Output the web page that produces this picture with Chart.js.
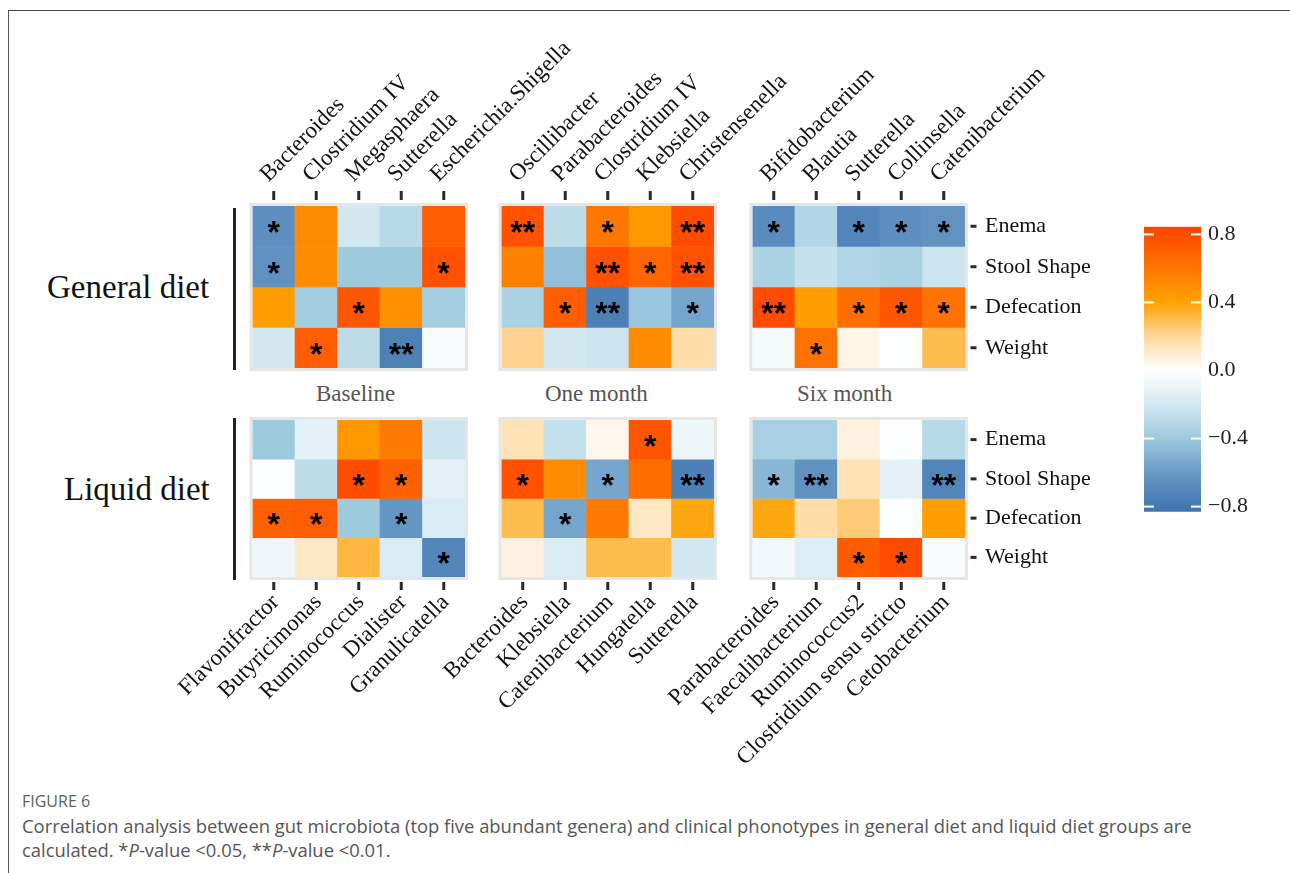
<!DOCTYPE html>
<html><head><meta charset="utf-8">
<script src="https://cdn.jsdelivr.net/npm/chart.js@4/dist/chart.umd.min.js"></script>
<style>
html,body{margin:0;padding:0;background:#fff;}
body{width:1290px;height:873px;position:relative;overflow:hidden;font-family:"Liberation Serif",serif;}
canvas{position:absolute;}
.t{position:absolute;white-space:nowrap;line-height:1;}
.cap{position:absolute;white-space:nowrap;font-family:"Open Sans",sans-serif;color:#555;}
</style></head><body>
<div style="position:absolute;left:8px;top:10px;width:1282px;height:0;border-top:1px solid #444"></div>
<div style="position:absolute;left:8px;top:10px;width:0;height:863px;border-left:1px solid #555"></div>

<div class="t" style="left:47px;top:271px;font-size:33px;color:#111">General diet</div>
<div class="t" style="left:64px;top:473px;font-size:33px;color:#111">Liquid diet</div>
<div style="position:absolute;left:233px;top:208px;width:3px;height:162px;background:#222"></div>
<div style="position:absolute;left:233px;top:418px;width:3px;height:162px;background:#222"></div>

<div class="t" style="left:316px;top:382px;font-size:23px;color:#555">Baseline</div>
<div class="t" style="left:545px;top:382px;font-size:23px;color:#555">One month</div>
<div class="t" style="left:797px;top:382px;font-size:23px;color:#555">Six month</div>

<div class="cap" style="left:22px;top:790px;font-size:16px;color:#5e5e5e">FIGURE 6</div>
<div class="cap" style="left:22px;top:814px;font-size:18.4px;line-height:24px">Correlation analysis between gut microbiota (top five abundant genera) and clinical phonotypes in general diet and liquid diet groups are<br>calculated. *<i>P</i>-value &lt;0.05, **<i>P</i>-value &lt;0.01.</div>

<script>
// ---------------- data ----------------
const rowLabels = ['Enema', 'Stool Shape', 'Defecation', 'Weight'];

const genBaseCols = ['Bacteroides', 'Clostridium IV', 'Megasphaera', 'Sutterella', 'Escherichia.Shigella'];
const genBaseVals = [[-0.66, 0.50, -0.20, -0.30, 0.72],
                     [-0.65, 0.50, -0.40, -0.40, 0.78],
                     [0.42, -0.38, 0.75, 0.48, -0.37],
                     [-0.20, 0.72, -0.28, -0.74, -0.03]];
const genBaseSig = [[1,0,0,0,0],[1,0,0,0,1],[0,0,1,0,0],[0,1,0,2,0]];

const genOneCols = ['Oscillibacter', 'Parabacteroides', 'Clostridium IV', 'Klebsiella', 'Christensenella'];
const genOneVals = [[0.78, -0.28, 0.60, 0.45, 0.80],
                    [0.55, -0.45, 0.78, 0.68, 0.78],
                    [-0.35, 0.72, -0.75, -0.42, -0.55],
                    [0.22, -0.20, -0.22, 0.50, 0.18]];
const genOneSig = [[2,0,1,0,2],[0,0,2,1,2],[0,1,2,0,1],[0,0,0,0,0]];

const genSixCols = ['Bifidobacterium', 'Blautia', 'Sutterella', 'Collinsella', 'Catenibacterium'];
const genSixVals = [[-0.68, -0.32, -0.72, -0.66, -0.64],
                    [-0.35, -0.25, -0.33, -0.35, -0.22],
                    [0.80, 0.42, 0.65, 0.75, 0.62],
                    [-0.05, 0.62, 0.05, -0.01, 0.30]];
const genSixSig = [[1,0,1,1,1],[0,0,0,0,0],[2,0,1,1,1],[0,1,0,0,0]];

const liqBaseCols = ['Flavonifractor', 'Butyricimonas', 'Ruminococcus', 'Dialister', 'Granulicatella'];
const liqBaseVals = [[-0.40, -0.12, 0.45, 0.58, -0.22],
                     [-0.02, -0.28, 0.80, 0.70, -0.12],
                     [0.70, 0.72, -0.40, -0.62, -0.17],
                     [-0.07, 0.12, 0.32, -0.17, -0.72]];
const liqBaseSig = [[0,0,0,0,0],[0,0,1,1,0],[1,1,0,1,0],[0,0,0,0,1]];

const liqOneCols = ['Bacteroides', 'Klebsiella', 'Catenibacterium', 'Hungatella', 'Sutterella'];
const liqOneVals = [[0.15, -0.25, 0.04, 0.76, -0.08],
                    [0.78, 0.50, -0.55, 0.65, -0.75],
                    [0.30, -0.55, 0.58, 0.12, 0.38],
                    [0.07, -0.16, 0.30, 0.30, -0.20]];
const liqOneSig = [[0,0,0,1,0],[1,0,1,0,2],[0,1,0,0,0],[0,0,0,0,0]];

const liqSixCols = ['Parabacteroides', 'Faecalibacterium', 'Ruminococcus2', 'Clostridium sensu stricto', 'Cetobacterium'];
const liqSixVals = [[-0.36, -0.36, 0.07, -0.02, -0.30],
                    [-0.48, -0.65, 0.15, -0.12, -0.72],
                    [0.38, 0.18, 0.25, -0.01, 0.42],
                    [-0.06, -0.15, 0.73, 0.80, -0.03]];
const liqSixSig = [[0,0,0,0,0],[1,2,0,0,2],[0,0,0,0,0],[0,0,1,1,0]];

const cbMin = -0.83, cbMax = 0.845;
const cbTicks = [-0.8, -0.4, 0.0, 0.4, 0.8];

// ---------------- colour map ----------------
const cmapStops = [[-0.85,[58,112,172]],[-0.6,[104,153,198]],[-0.4,[158,202,222]],[-0.2,[210,232,241]],
  [0,[255,255,255]],[0.2,[255,216,158]],[0.4,[255,162,0]],[0.6,[255,118,0]],[0.85,[255,66,0]]];
function colormap(v){
  if (v <= cmapStops[0][0]) v = cmapStops[0][0];
  if (v >= cmapStops[cmapStops.length-1][0]) v = cmapStops[cmapStops.length-1][0];
  for (let i=0;i<cmapStops.length-1;i++){
    const [a,ca] = cmapStops[i], [b,cb] = cmapStops[i+1];
    if (v >= a && v <= b){
      const t = (v-a)/(b-a);
      const c = ca.map((x,k)=>Math.round(x + (cb[k]-x)*t));
      return `rgb(${c[0]},${c[1]},${c[2]})`;
    }
  }
  return '#fff';
}

const serif = '"Liberation Serif", "Times New Roman", serif';
const labelFont = {family: serif, size: 22};
const xLabelFont = {family: serif, size: 23};

function panelPlugin(sig, g){
  return {
    id: 'panelDeco',
    beforeDatasetsDraw(chart){
      const c = chart.ctx, a = chart.chartArea;
      c.save();
      c.strokeStyle = '#e6e6e6'; c.lineWidth = 3;
      c.strokeRect(a.left-1.5, a.top-1.5, a.right-a.left+3, a.bottom-a.top+3);
      c.restore();
    },
    afterDatasetsDraw(chart){
      const c = chart.ctx, a = chart.chartArea;
      c.save();
      c.fillStyle = '#000';
      c.font = 'bold 32px "Liberation Sans", Arial, sans-serif';
      c.textAlign = 'center'; c.textBaseline = 'alphabetic';
      const m = c.measureText('*');
      const glyphMid = (m.actualBoundingBoxAscent - m.actualBoundingBoxDescent)/2;
      chart.data.datasets.forEach((ds, di) => {
        const meta = chart.getDatasetMeta(di);
        meta.data.forEach((el, j) => {
          const s = sig[di][j];
          if (!s) return;
          const cx = el.x, cy = (el.y + el.base)/2 + 1;
          c.fillText(s === 2 ? '**' : '*', cx, cy + glyphMid);
        });
      });
      c.fillStyle = '#2a2a2a';
      const xs = chart.scales.x;
      xs.ticks.forEach((t, i) => {
        const px = xs.getPixelForTick(i);
        if (g.xPos === 'top') c.fillRect(px-1.5, a.top-15, 3, 9);
        else c.fillRect(px-1.5, a.bottom+5, 3, 8);
      });
      if (g.yRight){
        const ys = chart.scales.y;
        [0.5,1.5,2.5,3.5].forEach(v => {
          const py = ys.getPixelForValue(v);
          c.fillRect(a.right+5.5, py-1.5, 6, 3);
        });
      }
      c.restore();
    }
  };
}

function makePanel(cols, vals, sig, g){
  const cv = document.createElement('canvas');
  cv.width = g.w; cv.height = g.h;
  cv.style.left = g.l+'px'; cv.style.top = g.t+'px';
  cv.style.width = g.w+'px'; cv.style.height = g.h+'px';
  document.body.appendChild(cv);
  const cellR = g.cl + g.cw, cellB = g.ct + g.ch;
  const xTop = g.xPos === 'top';
  const pad = {left: g.cl - g.l, top: 0, right: 0, bottom: 0};
  if (xTop) pad.bottom = (g.t + g.h) - cellB; else pad.top = g.ct - g.t;
  if (!g.yRight) pad.right = (g.l + g.w) - cellR;
  const datasets = rowLabels.map((r, ri) => ({
    label: r,
    data: cols.map(() => 1),
    backgroundColor: vals[ri].map(colormap),
    borderWidth: 0,
    stack: 's',
    barPercentage: 1,
    categoryPercentage: 1
  }));
  new Chart(cv, {
    type: 'bar',
    data: {labels: cols, datasets},
    options: {
      responsive: false, animation: false, devicePixelRatio: 1,
      layout: {padding: pad},
      plugins: {legend: {display: false}, tooltip: {enabled: false}},
      scales: {
        x: {
          position: g.xPos, stacked: true,
          grid: {display: false, drawTicks: false}, border: {display: false},
          ticks: {autoSkip: false, minRotation: 45, maxRotation: 45,
                  padding: xTop ? 18 : 12, labelOffset: xTop ? 10 : 2,
                  color: '#111', font: xLabelFont},
          afterFit: s => {
            s.height = xTop ? (g.ct - g.t) : ((g.t + g.h) - cellB);
            s.paddingLeft = 0; s.paddingRight = 0;
          }
        },
        y: {
          position: 'right', display: g.yRight, min: 0, max: 4, reverse: true, stacked: true,
          grid: {display: false, drawTicks: false}, border: {display: false},
          afterBuildTicks: s => { s.ticks = [0.5,1.5,2.5,3.5].map(v => ({value: v})); },
          ticks: {padding: 20, color: '#111', font: labelFont,
                  callback: v => rowLabels[Math.floor(v)]},
          afterFit: s => {
            s.width = g.yRight ? (g.l + g.w) - cellR : 0;
            s.paddingTop = 0; s.paddingBottom = 0;
          }
        }
      }
    },
    plugins: [panelPlugin(sig, g)]
  });
}

// geometry
const topRow = {ct: 206, ch: 162}, botRow = {ct: 420, ch: 157};
const cw = 212.5;
makePanel(genBaseCols, genBaseVals, genBaseSig, {...topRow, cl: 252.5, cw, xPos: 'top', yRight: false, l: 222, t: 0, w: 520, h: 385});
makePanel(genOneCols, genOneVals, genOneSig, {...topRow, cl: 501.5, cw, xPos: 'top', yRight: false, l: 471, t: 0, w: 520, h: 385});
makePanel(genSixCols, genSixVals, genSixSig, {...topRow, cl: 752.5, cw, xPos: 'top', yRight: true, l: 722, t: 0, w: 400, h: 385});
makePanel(liqBaseCols, liqBaseVals, liqBaseSig, {...botRow, cl: 252.5, cw, xPos: 'bottom', yRight: false, l: 150, t: 400, w: 340, h: 380});
makePanel(liqOneCols, liqOneVals, liqOneSig, {...botRow, cl: 501.5, cw, xPos: 'bottom', yRight: false, l: 400, t: 400, w: 340, h: 380});
makePanel(liqSixCols, liqSixVals, liqSixSig, {...botRow, cl: 752.5, cw, xPos: 'bottom', yRight: true, l: 640, t: 400, w: 482, h: 380});

// colour bar
(function(){
  const cv = document.createElement('canvas');
  const L = 1130, T = 200, W = 150, H = 340;
  cv.width = W; cv.height = H;
  cv.style.left = L+'px'; cv.style.top = T+'px'; cv.style.width = W+'px'; cv.style.height = H+'px';
  document.body.appendChild(cv);
  const fmt = v => (v < 0 ? '\u2212' : '') + Math.abs(v).toFixed(1);
  new Chart(cv, {
    type: 'bar',
    data: {labels: ['r'], datasets: [{
      data: [[cbMin, cbMax]],
      borderWidth: 0, barPercentage: 1, categoryPercentage: 1,
      backgroundColor: ctx => {
        const ch = ctx.chart;
        if (!ch.chartArea) return '#fff';
        const ys = ch.scales.y;
        const gr = ch.ctx.createLinearGradient(0, ys.getPixelForValue(cbMax), 0, ys.getPixelForValue(cbMin));
        const n = 40;
        for (let i = 0; i <= n; i++){
          const v = cbMax - i*(cbMax - cbMin)/n;
          gr.addColorStop(i/n, colormap(v));
        }
        return gr;
      }
    }]},
    options: {
      responsive: false, animation: false, devicePixelRatio: 1,
      layout: {padding: {left: 14, top: 26.7, bottom: 28.3, right: 0}},
      plugins: {legend: {display: false}, tooltip: {enabled: false}},
      scales: {
        x: {display: false},
        y: {
          position: 'right', min: cbMin, max: cbMax,
          grid: {display: false, drawTicks: false}, border: {display: false},
          afterBuildTicks: s => { s.ticks = cbTicks.map(v => ({value: v})); },
          ticks: {padding: 7, color: '#222', font: labelFont, callback: v => fmt(v)},
          afterFit: s => { s.width = 79; s.paddingTop = 0; s.paddingBottom = 0; }
        }
      }
    },
    plugins: [{
      id: 'cbTicks',
      afterDatasetsDraw(chart){
        const c = chart.ctx, a = chart.chartArea, ys = chart.scales.y;
        c.save();
        c.fillStyle = '#ffffff';
        cbTicks.forEach(v => {
          const py = ys.getPixelForValue(v);
          c.fillRect(a.left, py-1, 10, 2);
          c.fillRect(a.right-10, py-1, 10, 2);
        });
        c.restore();
      }
    }]
  });
})();
</script>
</body></html>
